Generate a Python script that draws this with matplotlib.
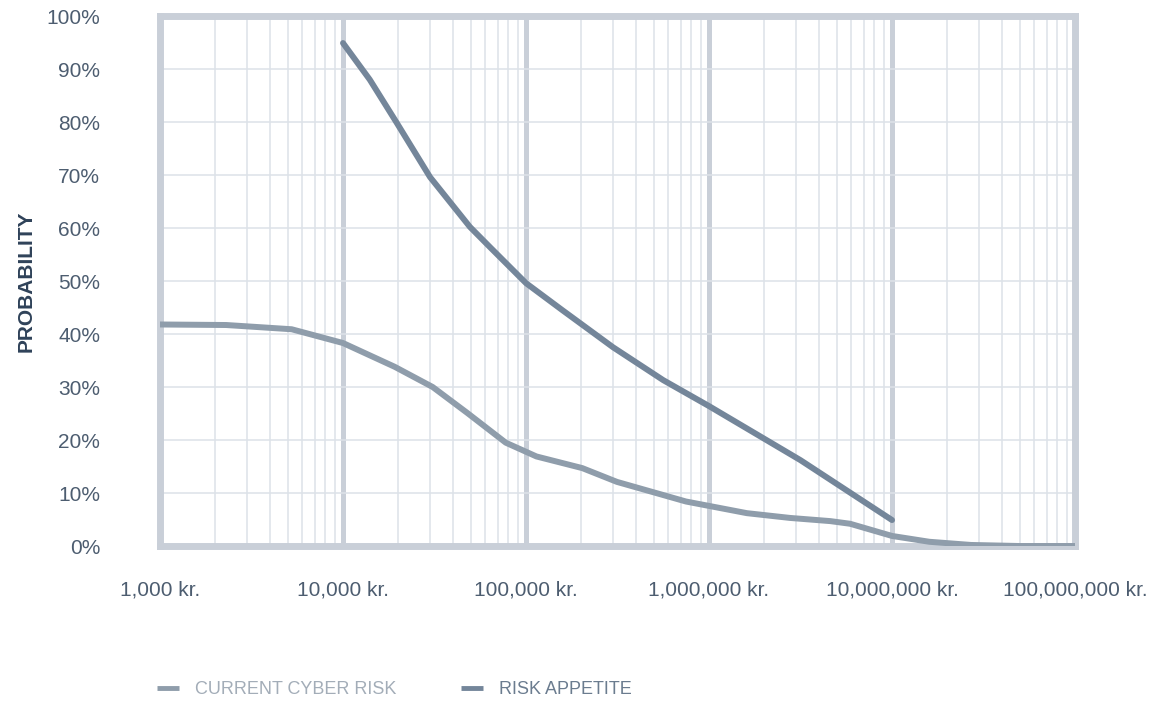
import matplotlib.pyplot as plt
from matplotlib.ticker import FixedLocator, LogLocator, NullFormatter

plt.rcParams['font.family'] = ['Liberation Sans', 'DejaVu Sans']

# current cyber risk (amount in kr., probability in %)
current_x = [1e3, 2300, 5240, 1e4, 19200, 30900, 47800, 77500, 114000, 203000,
             314000, 748000, 1.61e6, 2.77e6, 4.6e6, 5.9e6, 1e7, 1.6e7,
             2.7e7, 5e7, 1e8]
current_y = [41.8, 41.7, 40.9, 38.3, 33.8, 30.0, 25.1, 19.5, 16.9, 14.7,
             12.1, 8.4, 6.2, 5.3, 4.7, 4.2, 1.9, 0.8,
             0.2, 0.0, 0.0]

# risk appetite
appetite_x = [1e4, 14000, 19700, 29900, 49400, 63500, 1e5, 158000, 299000,
              562000, 1e6, 3.16e6, 1e7]
appetite_y = [94.9, 88.0, 79.8, 69.6, 60.2, 56.4, 49.6, 44.5, 37.5,
              31.3, 26.4, 16.2, 4.9]

x_ticks = [1e3, 1e4, 1e5, 1e6, 1e7, 1e8]
x_labels = ['1,000 kr.', '10,000 kr.', '100,000 kr.', '1,000,000 kr.',
            '10,000,000 kr.', '100,000,000 kr.']
y_ticks = list(range(0, 101, 10))
y_labels = [f'{v}%' for v in y_ticks]

frame_col = '#c9cfd8'
grid_col = '#dde2e8'
label_col = '#4d5d70'
current_col = '#8f9dab'
appetite_col = '#74869a'

fig = plt.figure(figsize=(11.74, 7.03), dpi=100)
ax = fig.add_axes([0.1363, 0.2233, 0.7794, 0.7539])

ax.set_xscale('log')
ax.set_xlim(1e3, 1e8)
ax.set_ylim(0, 100)

ax.plot(current_x, current_y, color=current_col, lw=4.3,
        solid_capstyle='round', solid_joinstyle='round', label='CURRENT CYBER RISK', zorder=4)
ax.plot(appetite_x, appetite_y, color=appetite_col, lw=4.3,
        solid_capstyle='round', solid_joinstyle='round', label='RISK APPETITE', zorder=5)

ax.xaxis.set_major_locator(FixedLocator(x_ticks))
ax.xaxis.set_minor_locator(LogLocator(base=10, subs=range(2, 10)))
ax.xaxis.set_minor_formatter(NullFormatter())
ax.set_xticklabels(x_labels)
ax.set_yticks(y_ticks)
ax.set_yticklabels(y_labels)

ax.grid(which='major', axis='x', color=frame_col, lw=3.6, zorder=1)
ax.grid(which='minor', axis='x', color=grid_col, lw=1.1, zorder=1)
ax.grid(which='major', axis='y', color=grid_col, lw=1.1, zorder=1)
ax.set_axisbelow(True)

for s in ax.spines.values():
    s.set_color(frame_col)
    s.set_linewidth(5)

ax.tick_params(axis='both', which='both', length=0)
ax.tick_params(axis='x', pad=25, labelsize=15, labelcolor=label_col)
ax.tick_params(axis='y', pad=43, labelsize=15, labelcolor=label_col)

ax.set_ylabel('PROBABILITY', fontsize=15, fontweight='bold', color='#2f4259')
ax.yaxis.set_label_coords(-0.1355, 0.5)

leg = fig.legend(loc='center', bbox_to_anchor=(0.336, 0.0185), ncol=2, frameon=False,
                 fontsize=13, handlelength=1.2, handletextpad=0.9, columnspacing=3.6)
for line in leg.get_lines():
    line.set_linewidth(3.5)
    line.set_solid_capstyle('butt')
leg.get_texts()[0].set_color('#a3adb8')
leg.get_texts()[1].set_color('#6b7c8f')

fig.savefig('out.png', dpi=100)
